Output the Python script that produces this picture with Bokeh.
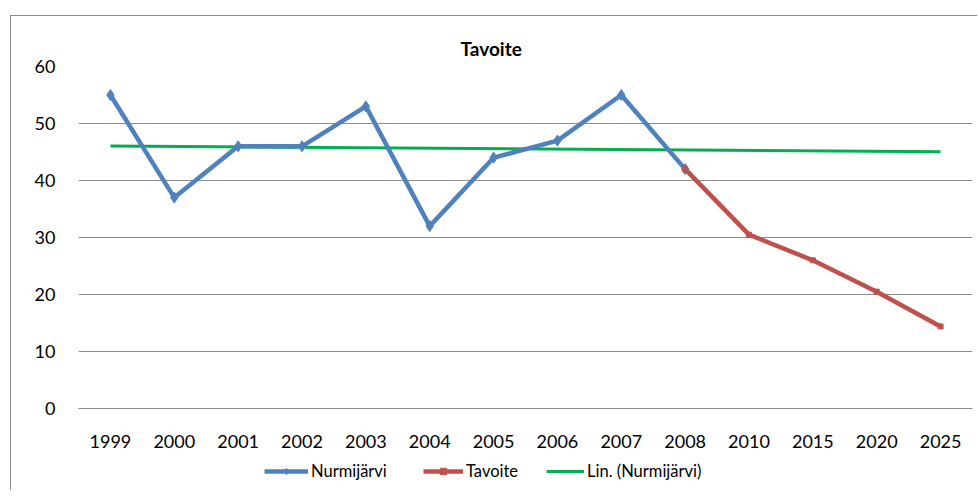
from bokeh.plotting import figure
from bokeh.layouts import column
from bokeh.models import Range1d, FactorRange, Legend, LegendItem, SingleIntervalTicker
from bokeh.embed import file_html
from bokeh.resources import INLINE

categories = ["1999", "2000", "2001", "2002", "2003", "2004", "2005", "2006",
              "2007", "2008", "2010", "2015", "2020", "2025"]
nurmi_years = ["1999", "2000", "2001", "2002", "2003", "2004", "2005", "2006", "2007", "2008"]
nurmi_values = [55, 37, 46, 46, 53, 32, 44, 47, 55, 42]
tavoite_years = ["2008", "2010", "2015", "2020", "2025"]
tavoite_values = [42, 30.5, 26, 20.5, 14.4]
trend_years = ["1999", "2025"]
trend_values = [46.05, 45.03]

FONT = "Lato"
BLUE = "#4F81BD"
RED = "#C0504D"
GREEN = "#00B050"
GRID = "#8C8C8C"

xr = FactorRange(*categories, range_padding=0)

p = figure(frame_width=894, frame_height=342, x_range=xr,
           y_range=Range1d(0, 60), output_backend="svg", toolbar_location=None,
           title="Tavoite", min_border_left=67, min_border_right=5,
           min_border_top=50, min_border_bottom=48)
p.outline_line_color = None

p.title.align = "left"
p.title.offset = 382
p.title.text_font = FONT
p.title.text_font_size = "19px"
p.title.text_font_style = "bold"
p.title.text_color = "#000000"
p.title.standoff = 13

p.xgrid.grid_line_color = None
p.ygrid.grid_line_color = GRID
p.ygrid.grid_line_width = 1
p.yaxis.ticker = SingleIntervalTicker(interval=10)
p.yaxis.axis_line_color = None
p.yaxis.major_tick_line_color = None
p.yaxis.minor_tick_line_color = None
p.yaxis.major_label_standoff = 17
p.yaxis.major_label_text_font = FONT
p.yaxis.major_label_text_font_size = "18px"
p.yaxis.major_label_text_color = "#000000"

p.xaxis.axis_line_color = GRID
p.xaxis.major_tick_line_color = None
p.xaxis.minor_tick_line_color = None
p.xaxis.major_label_standoff = 20
p.xaxis.major_label_text_font = FONT
p.xaxis.major_label_text_font_size = "18px"
p.xaxis.major_label_text_color = "#000000"

p.line(trend_years, trend_values, line_color=GREEN, line_width=3)
p.line(nurmi_years, nurmi_values, line_color=BLUE, line_width=4.5)
p.scatter(nurmi_years, nurmi_values, marker="diamond", size=11,
          fill_color=BLUE, line_color=BLUE)
p.line(tavoite_years, tavoite_values, line_color=RED, line_width=4.5)
p.scatter(tavoite_years, tavoite_values, marker="square", size=5,
          fill_color=RED, line_color=RED)

# legend strip below the chart (its renderers lie outside its visible range)
q = figure(width=966, height=34, x_range=xr, y_range=Range1d(1000, 1001),
           output_backend="svg", toolbar_location=None, min_border=0,
           x_axis_location=None, y_axis_location=None)
q.grid.grid_line_color = None
q.outline_line_color = None
l_tr = q.line(trend_years, trend_values, line_color=GREEN, line_width=3)
l_bl = q.line(nurmi_years, nurmi_values, line_color=BLUE, line_width=4.5)
l_bm = q.scatter(nurmi_years, nurmi_values, marker="diamond", size=9,
                 fill_color=BLUE, line_color=BLUE)
l_rl = q.line(tavoite_years, tavoite_values, line_color=RED, line_width=4.5)
l_rm = q.scatter(tavoite_years, tavoite_values, marker="square", size=5,
                 fill_color=RED, line_color=RED)


def add_legend(label, renderers, x, glyph_w):
    lg = Legend(items=[LegendItem(label=label, renderers=renderers)],
                orientation="horizontal", location=(x, 9))
    lg.label_text_font = FONT
    lg.label_text_font_size = "16.5px"
    lg.label_text_color = "#000000"
    lg.border_line_color = None
    lg.background_fill_alpha = 0
    lg.glyph_width = glyph_w
    lg.glyph_height = 16
    lg.label_height = 16
    lg.label_standoff = 3
    lg.padding = 0
    lg.margin = 0
    q.add_layout(lg)


add_legend("Nurmijärvi", [l_bl, l_bm], 186, 44)
add_legend("Tavoite", [l_rl, l_rm], 345, 40)
add_legend("Lin. (Nurmijärvi)", [l_tr], 468, 38)

layout = column(p, q, margin=(15, 0, 0, 10),
                styles={"border-top": "1px solid #8C8C8C", "border-left": "1px solid #8C8C8C"})

open("out.html", "w").write(file_html(layout, INLINE))
